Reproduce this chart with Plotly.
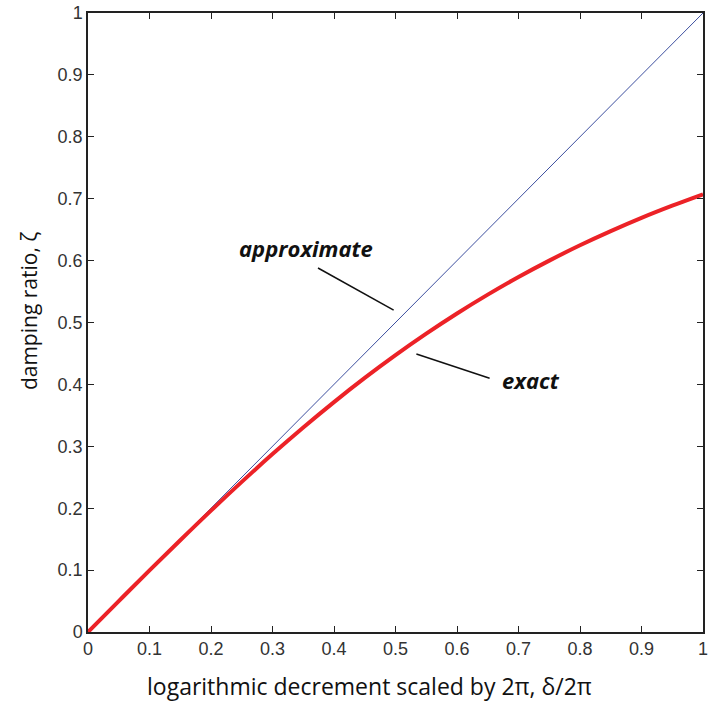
import plotly.graph_objects as go

# values
x_vals = [0.0, 0.05, 0.1, 0.15, 0.2, 0.25, 0.3, 0.35, 0.4, 0.45, 0.5,
          0.55, 0.6, 0.65, 0.7, 0.75, 0.8, 0.85, 0.9, 0.95, 1.0]
approx_vals = [0.0, 0.05, 0.1, 0.15, 0.2, 0.25, 0.3, 0.35, 0.4, 0.45, 0.5,
               0.55, 0.6, 0.65, 0.7, 0.75, 0.8, 0.85, 0.9, 0.95, 1.0]
exact_vals = [0.0, 0.0499, 0.0995, 0.1483, 0.1961, 0.2425, 0.2874, 0.3304,
              0.3714, 0.4104, 0.4472, 0.4819, 0.5145, 0.5450, 0.5735, 0.6000,
              0.6247, 0.6476, 0.6690, 0.6887, 0.7071]
tick_vals = [0, 0.1, 0.2, 0.3, 0.4, 0.5, 0.6, 0.7, 0.8, 0.9, 1]
tick_text = ["0", "0.1", "0.2", "0.3", "0.4", "0.5", "0.6", "0.7", "0.8", "0.9", "1"]

fig = go.Figure()
fig.add_trace(go.Scatter(x=x_vals, y=approx_vals, mode="lines",
                         line=dict(color="#3d4f9f", width=1), showlegend=False))
fig.add_trace(go.Scatter(x=x_vals, y=exact_vals, mode="lines",
                         line=dict(color="#ec2227", width=4, shape="spline"),
                         showlegend=False))

axis_common = dict(range=[0, 1], tickvals=tick_vals, ticktext=tick_text,
                   ticks="inside", ticklen=6, tickwidth=1, tickcolor="#222",
                   showline=True, linecolor="#222", linewidth=1.5, mirror="ticks",
                   showgrid=False, zeroline=False, ticklabeloverflow="allow",
                   tickfont=dict(family="Liberation Sans", size=18, color="#333"))

fig.update_xaxes(**axis_common)
fig.update_yaxes(**axis_common)

fig.add_annotation(xref="paper", yref="paper", x=0.458, y=-0.087,
                   xanchor="center", yanchor="middle",
                   text="logarithmic decrement scaled by 2π, δ/2π", showarrow=False,
                   font=dict(family="Open Sans", size=23, color="#111"))
fig.add_annotation(xref="paper", yref="paper", x=-0.097, y=0.519, textangle=-90,
                   xanchor="center", yanchor="middle",
                   text="damping ratio, ζ", showarrow=False,
                   font=dict(family="Open Sans", size=21, color="#111"))

fig.add_annotation(x=0.354, y=0.620, text="<b><i>approximate</i></b>", showarrow=False,
                   font=dict(family="Open Sans", size=22, color="#111"))
fig.add_annotation(x=0.721, y=0.407, text="<b><i>exact</i></b>", showarrow=False,
                   font=dict(family="Open Sans", size=22, color="#111"))
fig.add_shape(type="line", x0=0.374, y0=0.588, x1=0.497, y1=0.520,
              xref="x", yref="y", line=dict(color="#111", width=1.5))
fig.add_shape(type="line", x0=0.534, y0=0.449, x1=0.653, y1=0.410,
              xref="x", yref="y", line=dict(color="#111", width=1.5))

fig.update_layout(width=711, height=711, plot_bgcolor="white", paper_bgcolor="white",
                  margin=dict(l=88, r=3, t=13, b=79))
fig.write_html("out.html")
